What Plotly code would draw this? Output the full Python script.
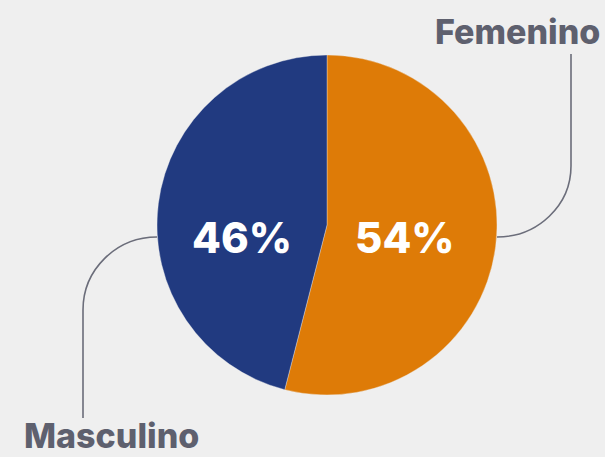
import plotly.graph_objects as go

# Data
labels = ["Femenino", "Masculino"]
values = [54, 46]
colors = ["#DE7B07", "#213A80"]

W, H = 605, 457
BG = "#EFEFEF"
GREY = "#5E606E"
LINE = "#6B6D7A"
FONT = "Inter"

# Pie geometry (pixels)
cx, cy, r = 327, 225, 170

fig = go.Figure()
fig.add_trace(go.Pie(
    labels=labels, values=values, sort=False, direction="clockwise", rotation=0,
    marker=dict(colors=colors, line=dict(color="rgba(239,239,239,0.6)", width=0.6)),
    textinfo="none", hoverinfo="skip", showlegend=False,
    domain=dict(x=[(cx - r) / W, (cx + r) / W], y=[(H - cy - r) / H, (H - cy + r) / H]),
))

# Invisible pixel-space axes for the callouts
fig.update_xaxes(range=[0, W], visible=False, fixedrange=True)
fig.update_yaxes(range=[H, 0], visible=False, fixedrange=True)
fig.add_trace(go.Scatter(x=[0], y=[0], mode="markers", marker=dict(opacity=0), hoverinfo="skip", showlegend=False))

k = 0.5523
def quarter(x0, y0, x1, y1):
    dx, dy = x1 - x0, y1 - y0
    return (f"M {x0},{y0} C {x0 + k*dx},{y0} {x1},{y1 - k*dy} {x1},{y1}")

ly = 237
path_f = quarter(cx + r, ly, 571, 166) + " L 571,54"
path_m = quarter(cx - r, ly, 83, 310) + " L 83,418"
for p in (path_f, path_m):
    fig.add_shape(type="path", path=p, xref="x", yref="y",
                  line=dict(color=LINE, width=1.6))

ann = []
pct_pos = [(405, 237), (242, 237)]
for v, (x, y) in zip(values, pct_pos):
    ann.append(dict(x=x, y=y, xref="x", yref="y", text=f"{v}%", showarrow=False,
                    xanchor="center", yanchor="middle",
                    font=dict(family=FONT, size=42, color="white", weight=800)))
ann.append(dict(x=602, y=31, xref="x", yref="y", text=labels[0], showarrow=False,
                xanchor="right", yanchor="middle",
                font=dict(family=FONT, size=34, color=GREY, weight=800)))
ann.append(dict(x=22, y=435, xref="x", yref="y", text=labels[1], showarrow=False,
                xanchor="left", yanchor="middle",
                font=dict(family=FONT, size=34, color=GREY, weight=800)))

fig.update_layout(
    width=W, height=H, margin=dict(l=0, r=0, t=0, b=0),
    paper_bgcolor=BG, plot_bgcolor=BG, annotations=ann,
)
fig.write_html("out.html", config={"displayModeBar": False},
               post_script="document.body.style.margin='0';document.body.style.background='#EFEFEF';")
